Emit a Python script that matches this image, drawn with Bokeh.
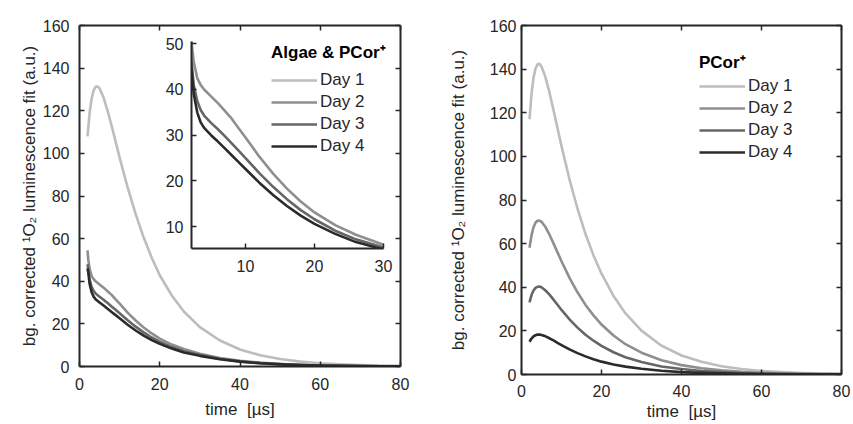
from bokeh.plotting import figure
from bokeh.models import (Range1d, LinearAxis, FixedTicker, Legend, LegendItem, GridBox,
                          CustomJSTickFormatter)
from bokeh.embed import file_html
from bokeh.resources import INLINE

# ---------------- data ----------------
day_labels = ["Day 1", "Day 2", "Day 3", "Day 4"]

# time grid of the PCor+ panel and of the Day 1 "Algae & PCor+" curve (µs)
t_fit = [2, 2.5, 3, 3.5, 4, 4.5, 5, 6, 7, 8, 9, 10, 12, 14, 16, 18, 20, 23, 26, 30,
         35, 40, 45, 50, 55, 60, 65, 70, 75, 80]
# time grid of Days 2-4 of the "Algae & PCor+" panel (µs)
t_algae = [2.0, 2.2, 2.5, 3, 3.5, 4, 5, 6, 7, 8, 9, 10, 12, 14, 16, 18, 20, 23, 26, 30,
           35, 40, 45, 50, 55, 60, 65, 70, 75, 80]

algae_day1 = [108.0, 118.7, 125.5, 129.5, 131.2, 131.4, 130.5, 126.2, 120.0, 113.0, 105.5, 98.0,
              84.0, 71.5, 60.5, 51.0, 42.8, 33.3, 25.8, 18.5, 12.2, 8.0, 5.3, 3.5, 2.3, 1.5,
              1.0, 0.65, 0.45, 0.3]
algae_day2 = [54.5, 50.0, 46.0, 42.5, 41.0, 40.0, 38.5, 37.0, 35.3, 33.6, 31.5, 29.5, 25.3, 21.6,
              18.3, 15.5, 13.1, 10.3, 8.2, 6.0, 4.0, 2.7, 1.8, 1.2, 0.8, 0.5, 0.35, 0.25, 0.15, 0.1]
algae_day3 = [48.0, 45.5, 41.0, 37.5, 35.5, 34.3, 32.7, 31.3, 29.8, 28.2, 26.6, 25.0, 21.7, 18.7,
              16.0, 13.6, 11.6, 9.1, 7.2, 5.4, 3.6, 2.4, 1.6, 1.1, 0.7, 0.5, 0.3, 0.2, 0.15, 0.1]
algae_day4 = [46.0, 44.0, 39.0, 35.0, 32.8, 31.6, 30.0, 28.6, 27.1, 25.6, 24.1, 22.6, 19.6, 16.9,
              14.5, 12.4, 10.6, 8.4, 6.6, 5.0, 3.4, 2.3, 1.5, 1.0, 0.7, 0.45, 0.3, 0.2, 0.13, 0.09]

pcor_day1 = [117.1, 128.6, 136.0, 140.3, 142.2, 142.4, 141.2, 136.2, 129.2, 121.2, 112.9, 104.7,
             89.4, 76.0, 64.4, 54.6, 46.2, 36.0, 28.0, 20.1, 13.2, 8.7, 5.8, 3.8, 2.5, 1.6,
             1.1, 0.7, 0.5, 0.3]
pcor_day2 = [58.1, 63.8, 67.5, 69.6, 70.5, 70.6, 70.0, 67.6, 64.1, 60.1, 56.0, 51.9, 44.3, 37.7,
             31.9, 27.1, 22.9, 17.9, 13.9, 10.0, 6.5, 4.3, 2.9, 1.9, 1.2, 0.8, 0.5, 0.35, 0.25, 0.15]
pcor_day3 = [33.1, 36.4, 38.5, 39.7, 40.2, 40.3, 40.0, 38.5, 36.6, 34.3, 32.0, 29.6, 25.3, 21.5,
             18.2, 15.5, 13.1, 10.2, 7.9, 5.7, 3.7, 2.5, 1.6, 1.1, 0.7, 0.45, 0.3, 0.2, 0.14, 0.1]
pcor_day4 = [15.0, 16.5, 17.5, 18.0, 18.3, 18.3, 18.1, 17.5, 16.6, 15.6, 14.5, 13.5, 11.5, 9.8,
             8.3, 7.0, 5.9, 4.6, 3.6, 2.6, 1.7, 1.1, 0.75, 0.5, 0.3, 0.2, 0.14, 0.09, 0.06, 0.04]

x_ticks_main = [0, 20, 40, 60, 80]
y_ticks_main = [0, 20, 40, 60, 80, 100, 120, 140, 160]
x_ticks_inset = [10, 20, 30]
y_ticks_inset = [10, 20, 30, 40, 50]

title_left = "Algae & PCor\u207a"
title_right = "PCor\u207a"
x_label = "time\u00a0 [\u00b5s]"
y_label = "bg. corrected \u00b9O\u2082 luminescence fit (a.u.)"

# ---------------- style ----------------
FONT = "Liberation Sans"
TXT = "#262626"
COLORS = ["#bdbdbd", "#8f8f8f", "#666666", "#2b2b2b"]
LW = 2.6
TICK_FS = "16px"


def style_axis(ax, ticks, labels=True, standoff=10):
    ax.ticker = FixedTicker(ticks=ticks)
    ax.minor_tick_line_color = None
    ax.major_tick_in = 5
    ax.major_tick_out = 0
    ax.major_tick_line_width = 1.5
    ax.major_tick_line_color = TXT
    ax.axis_line_color = TXT
    ax.axis_line_width = 2
    ax.major_label_text_font = FONT
    ax.major_label_text_color = TXT
    ax.axis_label_text_font = FONT
    ax.axis_label_text_font_style = "normal"
    ax.axis_label_text_font_size = "17px"
    ax.axis_label_text_color = TXT
    ax.major_label_text_font_size = TICK_FS
    if labels:
        ax.major_label_standoff = standoff
    else:
        ax.formatter = CustomJSTickFormatter(code="return ''")
        ax.major_label_standoff = 0


def main_fig(width, height, bl, br, bt, bb):
    p = figure(width=width, height=height, x_range=Range1d(0, 80), y_range=Range1d(0, 160),
               output_backend="svg", toolbar_location=None,
               min_border_left=bl, min_border_right=br, min_border_top=bt, min_border_bottom=bb)
    p.grid.visible = False
    p.outline_line_color = None
    p.background_fill_color = "white"
    p.border_fill_color = "white"
    return p


def finish_main(p, ystand, ylab_stand, xstand, xlab_stand):
    style_axis(p.xaxis[0], x_ticks_main, True, xstand)
    style_axis(p.yaxis[0], y_ticks_main, True, ystand)
    p.xaxis[0].axis_label = x_label
    p.xaxis[0].axis_label_standoff = xlab_stand
    p.yaxis[0].axis_label = y_label
    p.yaxis[0].axis_label_standoff = ylab_stand
    top = LinearAxis()
    right = LinearAxis()
    style_axis(top, x_ticks_main, False)
    style_axis(right, y_ticks_main, False)
    p.add_layout(top, "above")
    p.add_layout(right, "right")


def make_legend(p, renderers, title, loc, standoff):
    leg = Legend(items=[LegendItem(label=lab, renderers=[r]) for lab, r in zip(day_labels, renderers)],
                 location=loc, title=title)
    leg.title_text_font = FONT
    leg.title_text_font_style = "bold"
    leg.title_text_font_size = "17px"
    leg.title_text_color = "black"
    leg.title_standoff = standoff
    leg.label_text_font = FONT
    leg.label_text_font_size = "17px"
    leg.label_text_color = TXT
    leg.glyph_width = 46
    leg.glyph_height = 20
    leg.label_height = 20
    leg.label_standoff = 3
    leg.spacing = 2
    leg.padding = 0
    leg.margin = 0
    leg.border_line_color = None
    leg.background_fill_alpha = 0
    p.add_layout(leg)


# ---------------- left panel: Algae & PCor+ ----------------
p_left = main_fig(420, 414, 71, 28, 17, 56)
rl = [p_left.line(t_fit, algae_day1, line_color=COLORS[0], line_width=LW, line_join="round")]
for ys, c in zip([algae_day2, algae_day3, algae_day4], COLORS[1:]):
    rl.append(p_left.line(t_algae, ys, line_color=c, line_width=LW, line_join="round"))
finish_main(p_left, 10, 1, 11, 7)
make_legend(p_left, rl, title_left, (192, 210), 7)

# ---------------- inset ----------------
p_in = figure(width=237, height=251, x_range=Range1d(2.17, 30), y_range=Range1d(5.2, 50.5),
              output_backend="svg", toolbar_location=None,
              min_border_left=30, min_border_right=15, min_border_top=14, min_border_bottom=30)
p_in.grid.visible = False
p_in.outline_line_color = None
p_in.background_fill_color = None
p_in.border_fill_color = None
for ys, c in zip([algae_day2, algae_day3, algae_day4], COLORS[1:]):
    p_in.line(t_algae, ys, line_color=c, line_width=LW, line_join="round")
style_axis(p_in.xaxis[0], x_ticks_inset, True, 11)
style_axis(p_in.yaxis[0], y_ticks_inset, True, 8)

# ---------------- right panel: PCor+ ----------------
p_right = main_fig(423, 416, 93, 10, 17, 50)
rr = []
for ys, c in zip([pcor_day1, pcor_day2, pcor_day3, pcor_day4], COLORS):
    rr.append(p_right.line(t_fit, ys, line_color=c, line_width=LW, line_join="round"))
finish_main(p_right, 5, 19, 10, 2)
make_legend(p_right, rr, title_right, (178, 212), 3)

# left panel with its inset (overlapping grid cells)
left_block = GridBox(children=[(p_left, 0, 0, 3, 3), (p_in, 1, 1, 1, 1)],
                     rows=["19px", "251px", "146px"],
                     cols=["153px", "237px", "30px"])

page = GridBox(children=[(left_block, 1, 1), (p_right, 1, 2)],
               rows=["8px", "416px"],
               cols=["8px", "420px", "423px"])

open("out.html", "w").write(file_html(page, INLINE))
